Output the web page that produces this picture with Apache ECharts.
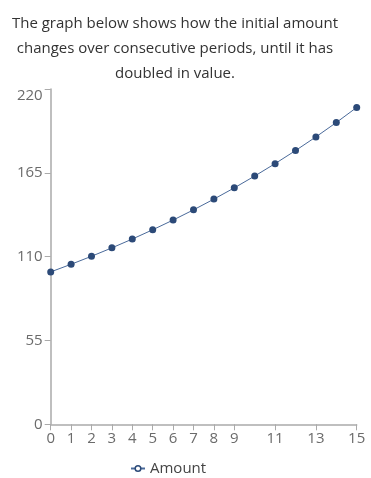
<!DOCTYPE html>
<html><head><meta charset="utf-8">
<script src="https://cdn.jsdelivr.net/npm/echarts@6/dist/echarts.min.js"></script>
<style>html,body{margin:0;padding:0;background:#fff}#c{width:371px;height:478px}</style>
</head><body><div id="c"></div>
<script>
const titleText = "The graph below shows how the initial amount\nchanges over consecutive periods, until it has\ndoubled in value.";
const periods = [0,1,2,3,4,5,6,7,8,9,10,11,12,13,14,15];
const amounts = [100,105,110.25,115.76,121.55,127.63,134.01,140.71,147.75,155.13,162.89,171.03,179.59,188.56,197.99,207.89];
const xTickLabels = [0,1,2,3,4,5,6,7,8,9,11,13,15];
const yTicks = [0,55,110,165,220];
const seriesName = "Amount";

const font = "'Open Sans', sans-serif";
const chart = echarts.init(document.getElementById('c'), null, {renderer:'canvas'});
chart.setOption({
  animation:false,
  graphic:[{type:'text',x:175,y:11,style:{text:titleText,textAlign:'center',fontFamily:font,fontSize:15,fill:'#333',lineHeight:25}}],
  grid:{left:50.7,right:14.3,top:89,bottom:53.7,containLabel:false},
  xAxis:{type:'value',min:0,max:15,interval:1,
    axisLine:{show:true,lineStyle:{color:'#aaa',width:1.5}},
    axisTick:{show:true,length:6,customValues:xTickLabels,lineStyle:{color:'#aaa'}},
    axisLabel:{customValues:xTickLabels,color:'#6b6b6b',fontFamily:font,fontSize:15,margin:7},
    splitLine:{show:false}},
  yAxis:{type:'value',min:0,max:220,interval:55,
    axisLine:{show:true,lineStyle:{color:'#aaa',width:1.5}},
    axisTick:{show:true,length:6,lineStyle:{color:'#aaa'}},
    axisLabel:{color:'#6b6b6b',fontFamily:font,fontSize:15,margin:8,
      formatter:function(v){return v===yTicks[yTicks.length-1] ? '{t|'+v+'}' : '{n|'+v+'}';},
      rich:{t:{padding:[14,0,0,0],fontFamily:font,fontSize:15,color:'#6b6b6b'},n:{fontFamily:font,fontSize:15,color:'#6b6b6b'}}},
    splitLine:{show:false}},
  legend:{top:456,left:125,data:[{name:seriesName}],itemWidth:14,itemHeight:7,itemGap:5,
    textStyle:{fontFamily:font,fontSize:15,color:'#444'},
    itemStyle:{color:'#fff',borderColor:'#2c4a78',borderWidth:1.5}},
  series:[{name:seriesName,type:'line',data:periods.map((p,i)=>[p,amounts[i]]),
    symbol:'circle',symbolSize:7,
    lineStyle:{color:'#4a6a9a',width:1},
    itemStyle:{color:'#2c4a78'}}]
});
</script></body></html>
